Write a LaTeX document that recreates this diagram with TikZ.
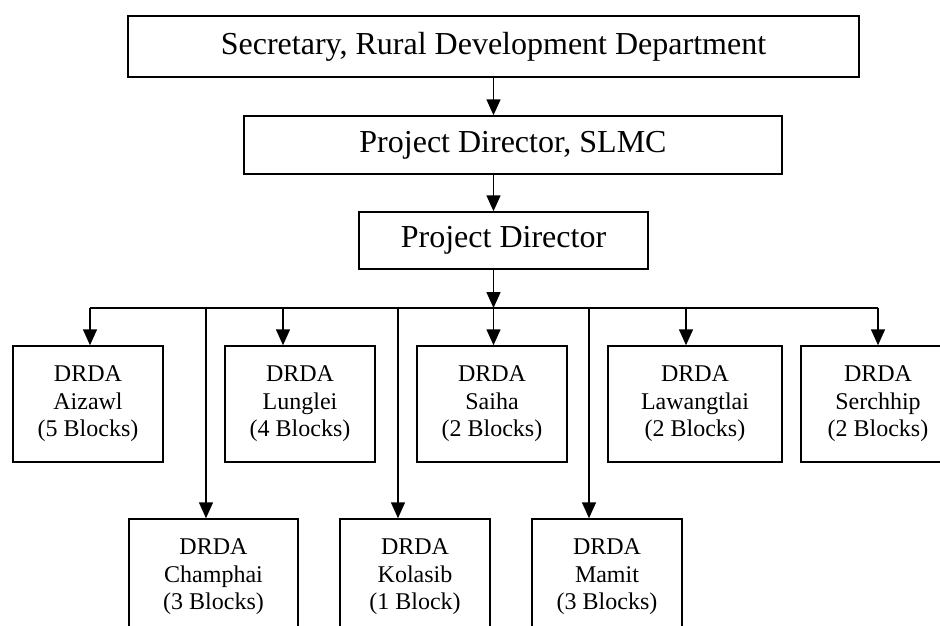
\documentclass[tikz,border=0pt]{standalone}
\usepackage{fontspec}
\setmainfont{Liberation Serif}
\usetikzlibrary{arrows.meta}
\tikzset{
  chief/.style={draw,line width=1.5pt,inner sep=0pt,font=\fontsize{32}{37}\selectfont},
  drda/.style={draw,line width=1.5pt,inner sep=0pt,minimum width=150pt,minimum height=116pt,align=center,font=\fontsize{24}{27.5}\selectfont},
  feed/.style={line width=1.6pt,-{Triangle[length=16pt,width=14pt]}}
}
\def\busy{308}

\begin{document}
\begin{tikzpicture}[x=1pt,y=-1pt]
  \useasboundingbox (0,0) rectangle (940,626);
  \clip (0,0) rectangle (940,626);
  \node[chief,minimum width=731pt,minimum height=61pt] (sec) at (493.5,46.5) {Secretary, Rural Development Department};
  \node[chief,minimum width=538pt,minimum height=58pt] (slmc) at (513,145) {Project Director, SLMC};
  \node[chief,minimum width=289pt,minimum height=57pt] (pd) at (503.5,240.5) {Project Director};

  \node[drda] (aiz) at (88,404) {DRDA\\Aizawl\\(5 Blocks)};
  \node[drda] (lun) at (300,404) {DRDA\\Lunglei\\(4 Blocks)};
  \node[drda] (sai) at (492,404) {DRDA\\Saiha\\(2 Blocks)};
  \node[drda,minimum width=174pt] (law) at (695,404) {DRDA\\Lawangtlai\\(2 Blocks)};
  \node[drda,minimum width=154pt] (ser) at (878,404) {DRDA\\Serchhip\\(2 Blocks)};

  \node[drda,minimum width=169pt] (cha) at (213.5,577) {DRDA\\Champhai\\(3 Blocks)};
  \node[drda] (kol) at (415,577) {DRDA\\Kolasib\\(1 Block)};
  \node[drda] (mam) at (607,577) {DRDA\\Mamit\\(3 Blocks)};

  \coordinate (busL) at (90,\busy);
  \coordinate (busR) at (878,\busy);
  \coordinate (busM) at (493.5,\busy);

  \draw[feed] (sec.south) -- (sec.south |- slmc.north);
  \draw[feed] (sec.south |- slmc.south) -- (sec.south |- pd.north);
  \draw[feed] (sec.south |- pd.south) -- (busM);
  \draw[line width=1.6pt] (busL) -- (busR);

  \foreach \x/\n in {90/aiz,283/lun,493.5/sai,686/law,878/ser,206/cha,398/kol,589/mam}{
    \coordinate (t-\n) at (\x,\busy);
    \draw[feed] (t-\n) -- (t-\n |- \n.north);
  }
\end{tikzpicture}
\end{document}
